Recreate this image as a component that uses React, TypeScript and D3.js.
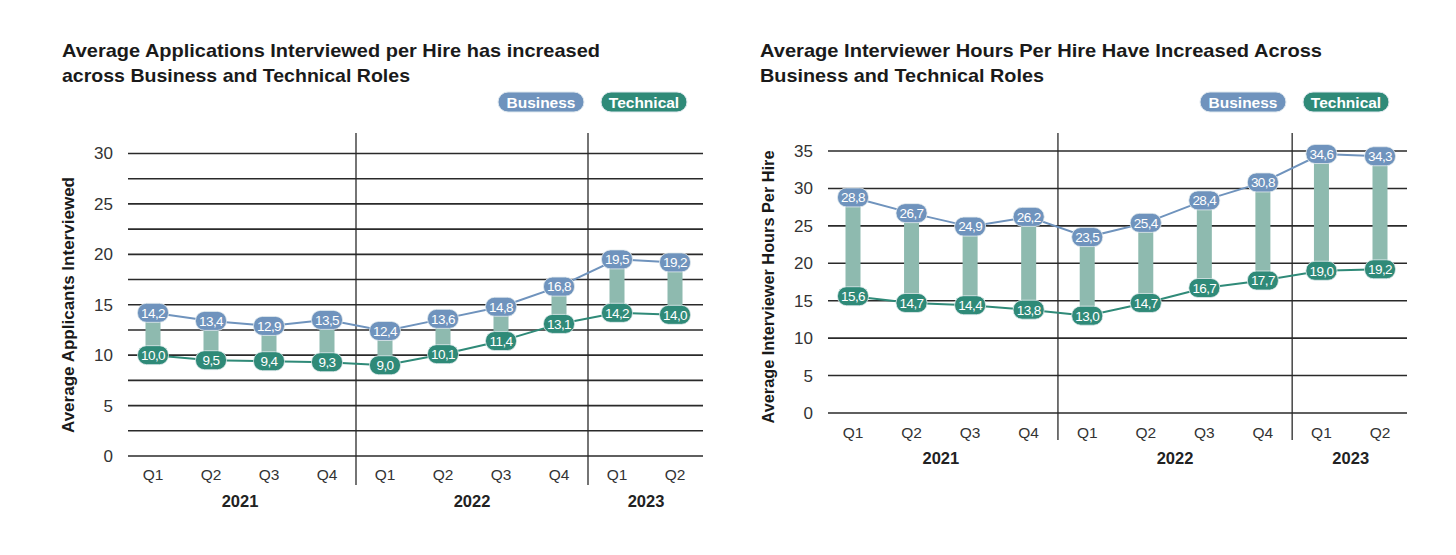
import * as d3 from "d3";

const QUARTERS = ["Q1", "Q2", "Q3", "Q4", "Q1", "Q2", "Q3", "Q4", "Q1", "Q2"];
const YEAR_OF = [0, 0, 0, 0, 1, 1, 1, 1, 2, 2];
const YEARS = ["2021", "2022", "2023"];
const PERIODS = QUARTERS.map((q, i) => `${YEARS[YEAR_OF[i]]} ${q}`);

// chart 1: applicants interviewed per hire
const APPS_BUSINESS = [14.2, 13.4, 12.9, 13.5, 12.4, 13.6, 14.8, 16.8, 19.5, 19.2];
const APPS_TECHNICAL = [10.0, 9.5, 9.4, 9.3, 9.0, 10.1, 11.4, 13.1, 14.2, 14.0];

// chart 2: interviewer hours per hire
const HOURS_BUSINESS = [28.8, 26.7, 24.9, 26.2, 23.5, 25.4, 28.4, 30.8, 34.6, 34.3];
const HOURS_TECHNICAL = [15.6, 14.7, 14.4, 13.8, 13.0, 14.7, 16.7, 17.7, 19.0, 19.2];

const BLUE = "#6f93bd";
const GREEN = "#2f8a78";
const BAR = "#8ebaaf";
const INK = "#2a2a2a";
const FONT = "'Liberation Sans', Arial, sans-serif";

const fmt = (v: number) => v.toFixed(1).replace(".", ",");

interface ChartProps {
  title: string[];
  titleWidths: number[];
  titleX: number;
  yLabel: string;
  yLabelLen: number;
  yLabelX: number;
  yLabelY: number;
  business: number[];
  technical: number[];
  yMax: number;
  gridStep: number;
  yRange: [number, number];
  xRange: [number, number];
  gridX: [number, number];
  tickRightX: number;
  qY: number;
  yearY: number;
  dividerBottom: number;
  legendX: [number, number];
}

function Chart(p: ChartProps) {
  const x = d3.scalePoint<string>().domain(PERIODS).range(p.xRange);
  const y = d3.scaleLinear().domain([0, p.yMax]).range(p.yRange);
  const grid = d3.range(0, p.yMax + 0.001, p.gridStep);
  const labels = d3.range(0, p.yMax + 0.001, 5);
  const px = (i: number) => x(PERIODS[i]) ?? 0;
  const dividers = [3, 7].map((i) => (px(i) + px(i + 1)) / 2);
  const line = d3
    .line<number>()
    .x((_, i) => px(i))
    .y((d) => y(d));
  const yearCenters = YEARS.map((_, yi) => {
    const idx = YEAR_OF.map((v, i) => (v === yi ? i : -1)).filter((i) => i >= 0);
    return (px(idx[0]) + px(idx[idx.length - 1])) / 2;
  });
  const pillW = 31;
  const pillH = 19;

  return (
    <g fontFamily={FONT}>
      {p.title.map((t, i) => (
        <text
          key={i}
          x={p.titleX}
          y={57 + i * 25}
          fontSize={19}
          fontWeight={700}
          fill="#1a1a1a"
          textLength={p.titleWidths[i]}
          lengthAdjust="spacingAndGlyphs"
        >
          {t}
        </text>
      ))}
      {[
        { label: "Business", color: BLUE },
        { label: "Technical", color: GREEN },
      ].map((l, i) => (
        <g key={l.label} transform={`translate(${p.legendX[i]},102)`}>
          <rect x={-43} y={-10} width={86} height={20} rx={10} fill={l.color} stroke="#dfe8ee" strokeWidth={1} />
          <text textAnchor="middle" dy="0.36em" fontSize={15.5} fontWeight={700} fill="#fff">
            {l.label}
          </text>
        </g>
      ))}
      {grid.map((g) => (
        <line key={g} x1={p.gridX[0]} x2={p.gridX[1]} y1={y(g)} y2={y(g)} stroke={INK} strokeWidth={1.6} />
      ))}
      {dividers.map((d) => (
        <line key={d} x1={d} x2={d} y1={133} y2={p.dividerBottom} stroke={INK} strokeWidth={1.3} />
      ))}
      {labels.map((l) => (
        <text key={l} x={p.tickRightX} y={y(l)} dy="0.35em" textAnchor="end" fontSize={17} fill="#333">
          {l}
        </text>
      ))}
      <text
        transform={`translate(${p.yLabelX},${p.yLabelY}) rotate(-90)`}
        textAnchor="middle"
        dy="0.35em"
        fontSize={16.5}
        fontWeight={700}
        fill="#1a1a1a"
        textLength={p.yLabelLen}
        lengthAdjust="spacingAndGlyphs"
      >
        {p.yLabel}
      </text>
      {QUARTERS.map((q, i) => (
        <text key={i} x={px(i)} y={p.qY} dy="0.35em" textAnchor="middle" fontSize={15.5} fill="#333">
          {q}
        </text>
      ))}
      {YEARS.map((yr, i) => (
        <text key={yr} x={yearCenters[i]} y={p.yearY} dy="0.35em" textAnchor="middle" fontSize={16.5} fontWeight={700} fill="#222">
          {yr}
        </text>
      ))}
      {p.business.map((b, i) => (
        <rect key={i} x={px(i) - 7.5} y={y(b)} width={15} height={y(p.technical[i]) - y(b)} fill={BAR} />
      ))}
      <path d={line(p.business) ?? ""} fill="none" stroke={BLUE} strokeWidth={2} />
      <path d={line(p.technical) ?? ""} fill="none" stroke={GREEN} strokeWidth={2} />
      {[
        { vals: p.business, color: BLUE },
        { vals: p.technical, color: GREEN },
      ].map((s) =>
        s.vals.map((v, i) => (
          <g key={`${s.color}-${i}`} transform={`translate(${px(i)},${y(v)})`}>
            <rect x={-pillW / 2} y={-pillH / 2} width={pillW} height={pillH} rx={9} fill={s.color} stroke="#e4ecef" strokeWidth={0.8} />
            <text textAnchor="middle" dy="0.36em" fontSize={13.5} fill="#fff" letterSpacing={-0.6}>
              {fmt(v)}
            </text>
          </g>
        ))
      )}
    </g>
  );
}

export default function App() {
  return (
    <svg width={1456} height={555} style={{ position: "absolute", left: 0, top: 0, background: "#fff" }}>
      <rect width={1456} height={555} fill="#fff" />
      <Chart
        title={["Average Applications Interviewed per Hire has increased", "across Business and Technical Roles"]}
        titleWidths={[538, 348]}
        titleX={62}
        yLabel="Average Applicants Interviewed"
        yLabelLen={256}
        yLabelX={68}
        yLabelY={305}
        business={APPS_BUSINESS}
        technical={APPS_TECHNICAL}
        yMax={30}
        gridStep={2.5}
        yRange={[456, 153.5]}
        xRange={[153, 675]}
        gridX={[128, 703]}
        tickRightX={113}
        qY={475}
        yearY={501}
        dividerBottom={485}
        legendX={[541, 644]}
      />
      <Chart
        title={["Average Interviewer Hours Per Hire Have Increased Across", "Business and Technical Roles"]}
        titleWidths={[562, 284]}
        titleX={760}
        yLabel="Average Interviewer Hours Per Hire"
        yLabelLen={273}
        yLabelX={768}
        yLabelY={287}
        business={HOURS_BUSINESS}
        technical={HOURS_TECHNICAL}
        yMax={35}
        gridStep={5}
        yRange={[413, 151]}
        xRange={[853, 1380]}
        gridX={[828, 1407]}
        tickRightX={813}
        qY={433}
        yearY={458}
        dividerBottom={440}
        legendX={[1243, 1346]}
      />
    </svg>
  );
}
